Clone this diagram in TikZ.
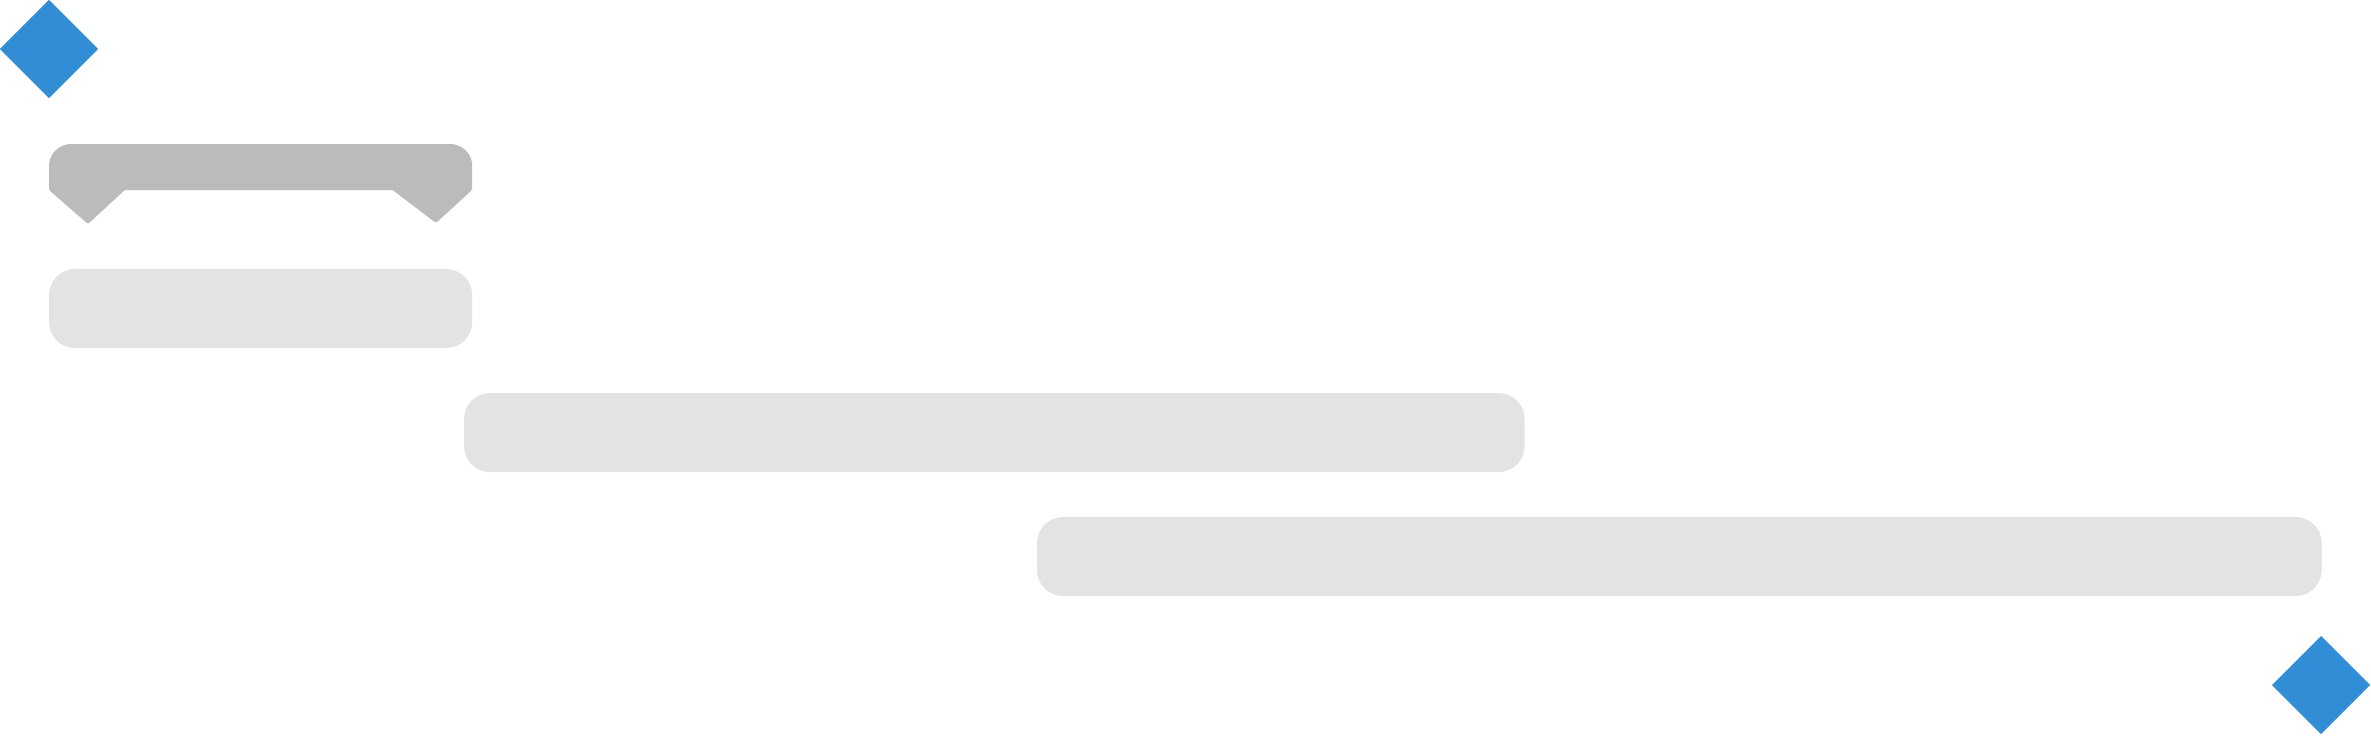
\documentclass[tikz,border=0pt]{standalone}
\usepackage{tikz}
\usetikzlibrary{positioning}
\usetikzlibrary{shapes.geometric}

\definecolor{msblue}{HTML}{318ED6}
\definecolor{sumgray}{HTML}{BBBBBB}
\definecolor{taskgray}{HTML}{E3E3E3}

\begin{document}
\begin{tikzpicture}[
    x=0.01cm, y=-0.01cm,        % one unit is one pixel of the reference
    ]
% -------------------------------------------------
\tikzset{
  base/.style={inner sep=0pt, outer sep=0pt, anchor=north west},
  milestone/.style={diamond, aspect=1, fill=msblue, inner sep=0pt, outer sep=0pt,
                    minimum width=0.98cm, minimum height=0.98cm},
  task/.style={base, rectangle, fill=taskgray, rounded corners=0.26cm, minimum height=0.79cm},
  summary/.style={base, rectangle, fill=sumgray, rounded corners=0.22cm,
                  minimum width=4.23cm, minimum height=0.46cm},
}
% -------------------------------------------------
\useasboundingbox (0,0) rectangle (2371,735);

% Milestones
\node [milestone] (start) at (49,49) {};
\node [milestone] (finish) at (2321,685) {};

% Summary bar with its end marks
\node [summary] (sum) at (49,144) {};
\fill [sumgray, rounded corners=0.015cm]
  (sum.west) -- (sum.east) -- (472,190) -- (436,223) -- (390,188)
  -- (127,188) -- (88,224) -- (49,190) -- cycle;

% Tasks
\node [task, minimum width=4.23cm] (taskA) at (49,269) {};
\node [task, minimum width=10.60cm] (taskB) at (464,393) {};
\node [task, minimum width=12.84cm] (taskC) at (1037,517) {};

\end{tikzpicture}
\end{document}
